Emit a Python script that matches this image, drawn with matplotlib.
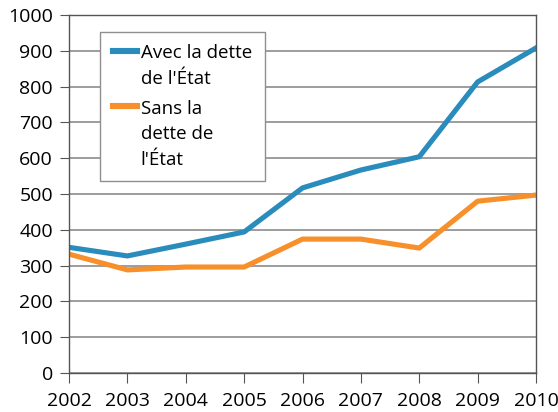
import numpy as np
import matplotlib.pyplot as plt
from matplotlib.legend_handler import HandlerLine2D

years = [2002, 2003, 2004, 2005, 2006, 2007, 2008, 2009, 2010]
avec_dette = [351, 327, 360, 394, 517, 567, 604, 813, 908]
sans_dette = [332, 288, 296, 296, 374, 374, 349, 480, 497]
labels = ["Avec la dette\nde l'État", "Sans la\ndette de\nl'État"]

plt.rcParams['font.family'] = ['Open Sans', 'DejaVu Sans']


# put the legend line level with the first line of text
class TopLine(HandlerLine2D):
    def __init__(self, shift, **kw):
        super().__init__(**kw)
        self.shift = shift

    def create_artists(self, legend, orig_handle, xdescent, ydescent, width, height, fontsize, trans):
        arts = super().create_artists(legend, orig_handle, xdescent, ydescent, width, height, fontsize, trans)
        for a in arts:
            a.set_ydata(np.asarray(a.get_ydata()) + self.shift)
        return arts


fig = plt.figure(figsize=(5.58, 4.12), dpi=100)
ax = fig.add_axes([69 / 558, 39 / 412, 467 / 558, 358 / 412])

l1, = ax.plot(years, avec_dette, color='#2A8CBC', lw=3.7, label=labels[0])
l2, = ax.plot(years, sans_dette, color='#F7902B', lw=3.7, label=labels[1])

ax.set_xlim(2002, 2010)
ax.set_ylim(0, 1000)
ax.set_yticks(range(0, 1001, 100))
ax.set_xticks(years)
ax.grid(axis='y', color='#8c8c8c', lw=1.2)
ax.set_axisbelow(True)
for s in ax.spines.values():
    s.set_color('#555555')
    s.set_linewidth(1)
ax.tick_params(direction='out', color='#555555', labelsize=14)
ax.tick_params(axis='x', length=7.2, pad=6.5)
ax.tick_params(axis='y', length=6.5, pad=5)

leg = ax.legend(loc='upper left', bbox_to_anchor=(31 / 467, 0.953), fontsize=13.5,
                frameon=True, fancybox=False, edgecolor='#8f8f8f', handlelength=1.3,
                handletextpad=0.2, borderpad=0.67, labelspacing=0.65, borderaxespad=0,
                framealpha=1,
                handler_map={l1: TopLine(11.5), l2: TopLine(20.5)})
leg.get_frame().set_linewidth(1)
for t in leg.get_texts():
    t.set_linespacing(1.53)
for h in leg.get_lines():
    h.set_linewidth(4.4)

fig.savefig("out.png", dpi=100)
